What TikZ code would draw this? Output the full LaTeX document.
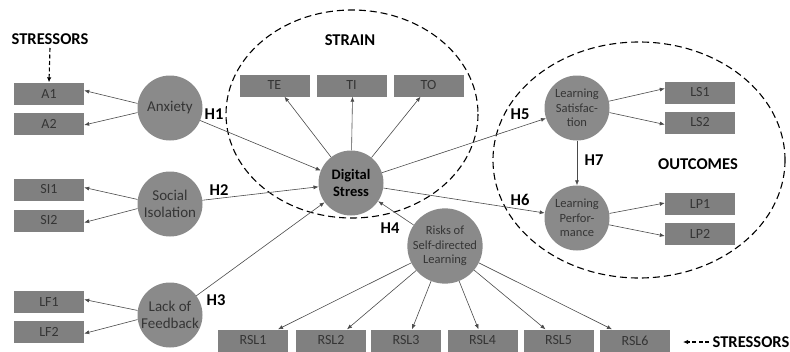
\documentclass[tikz,border=0pt]{standalone}
\usepackage{fontspec}
\setmainfont{Carlito}
\usetikzlibrary{arrows.meta}
\definecolor{boxgray}{HTML}{808080}
\definecolor{circgray}{HTML}{8A8A8A}
\definecolor{txtgray}{HTML}{353535}
\definecolor{linegray}{HTML}{4A4A4A}
\begin{document}
\begin{tikzpicture}[x=1pt,y=-1pt,
  ind/.style={fill=boxgray, minimum width=70pt, minimum height=22pt, inner sep=0pt,
    font=\fontsize{14}{15}\selectfont, text=txtgray},
  lat/.style={circle, fill=circgray, minimum size=65pt, inner sep=0pt, align=center,
    text=txtgray},
  bigf/.style={font=\fontsize{15}{17.5}\selectfont},
  smallf/.style={font=\fontsize{12.5}{14.5}\selectfont},
  hyp/.style={font=\bfseries\fontsize{16.5}{17}\selectfont, text=black},
  arr/.style={draw=linegray, line width=0.6pt, -{Latex[length=5pt,width=4pt]}},
  dasharr/.style={draw=black, line width=1.1pt, dash pattern=on 4pt off 2.5pt, -{Latex[length=5pt,width=4.5pt]}},
  grp/.style={draw=black, line width=1.1pt, dash pattern=on 7pt off 4pt}
]
\useasboundingbox (0,0) rectangle (790,351);

% group ellipses
\draw[grp] (352,114) ellipse [x radius=126, y radius=104];
\draw[grp] (639,160) ellipse [x radius=146, y radius=118];

% indicator boxes
\node[ind] (a1) at (49,93.5) {A1};
\node[ind] (a2) at (49,124) {A2};
\node[ind] (si1) at (49,189.5) {SI1};
\node[ind] (si2) at (49,220.5) {SI2};
\node[ind] (lf1) at (49,301.5) {LF1};
\node[ind] (lf2) at (49,331.5) {LF2};
\node[ind] (nte) at (274.5,85.5) {TE};
\node[ind] (nti) at (351.5,85.5) {TI};
\node[ind] (nto) at (428.5,85.5) {TO};
\node[ind] (ls1) at (700,92.5) {LS1};
\node[ind] (ls2) at (700,122.5) {LS2};
\node[ind] (lp1) at (700,204) {LP1};
\node[ind] (lp2) at (700,234) {LP2};
\node[ind] (rsl1) at (253,340.5) {RSL1};
\node[ind] (rsl2) at (331,340.5) {RSL2};
\node[ind] (rsl3) at (406,340.5) {RSL3};
\node[ind] (rsl4) at (482.5,340.5) {RSL4};
\node[ind] (rsl5) at (558.5,340.5) {RSL5};
\node[ind] (rsl6) at (635,340.5) {RSL6};

% latent circles
\node[lat, bigf] (anx) at (170,108) {Anxiety};
\node[lat, bigf] (soc) at (170,204) {Social\\Isolation};
\node[lat, bigf] (lof) at (170,315) {Lack of\\Feedback};
\node[lat, font=\bfseries\fontsize{14.5}{17.5}\selectfont, text=black] (ds) at (351,183) {Digital\\Stress};
\node[lat, smallf] (risk) at (445,246) {Risks of\\Self-directed\\Learning};
\node[lat, smallf] (ls) at (577,108) {Learning\\Satisfac-\\tion};
\node[lat, smallf] (lp) at (577,218) {Learning\\Perfor-\\mance};

% text labels
\node[hyp] (h1) at (214,114) {H1};
\node[hyp] (h2) at (219,190) {H2};
\node[hyp] (h3) at (216,300) {H3};
\node[hyp] (h4) at (390,228) {H4};
\node[hyp] (h5) at (520,114) {H5};
\node[hyp] (h6) at (520,200) {H6};
\node[hyp] (h7) at (594,160) {H7};
\node[hyp] (strain) at (350,40) {STRAIN};
\node[hyp] (outc) at (698,164) {OUTCOMES};
\node[hyp] (str1) at (50,39) {STRESSORS};
\node[hyp] (str2) at (751,342) {STRESSORS};
\coordinate (str2end) at (683,342);

% stressor arrows
\draw[dasharr] (str1.south) -- (a1.north);
\draw[dasharr] (str2.west) -- (str2end);

% measurement arrows
\draw[arr] (anx.172) -- ([yshift=3]a1.east);
\draw[arr] (anx.188) -- ([yshift=-1]a2.east);
\draw[arr] (soc.172) -- ([yshift=2]si1.east);
\draw[arr] (soc.188) -- ([yshift=-2]si2.east);
\draw[arr] (lof.172) -- ([yshift=2]lf1.east);
\draw[arr] (lof.188) -- ([yshift=-2]lf2.east);
\draw[arr] (ds) -- ([xshift=10]nte.south);
\draw[arr] (ds) -- ([xshift=1]nti.south);
\draw[arr] (ds) -- ([xshift=-8]nto.south);
\draw[arr] (ls.12) -- ([yshift=4]ls1.west);
\draw[arr] (ls.-8) -- ([yshift=-2]ls2.west);
\draw[arr] (lp.8) -- ([yshift=1]lp1.west);
\draw[arr] (lp.-12) -- ([yshift=-2]lp2.west);
\draw[arr] (risk) -- ([xshift=25]rsl1.north);
\draw[arr] (risk) -- ([xshift=16]rsl2.north);
\draw[arr] (risk) -- ([xshift=6]rsl3.north);
\draw[arr] (risk) -- ([xshift=-4]rsl4.north);
\draw[arr] (risk) -- ([xshift=-13]rsl5.north);
\draw[arr] (risk) -- ([xshift=-23]rsl6.north);

% structural arrows
\draw[arr] (anx) -- (ds);
\draw[arr] (soc) -- (ds);
\draw[arr] (lof) -- (ds);
\draw[arr] (risk) -- (ds);
\draw[arr] (ds) -- (ls);
\draw[arr] (ds) -- (lp);
\draw[arr] (ls) -- (lp);
\end{tikzpicture}
\end{document}
